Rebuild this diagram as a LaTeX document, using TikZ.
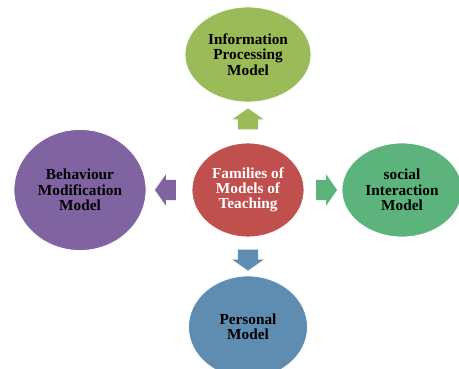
\documentclass[tikz,border=0pt]{standalone}
\usepackage{fontspec}
\setmainfont{Liberation Serif}
\usetikzlibrary{shapes.geometric,shapes.arrows,calc}

\definecolor{famred}{RGB}{192,80,77}
\definecolor{infogreen}{RGB}{155,187,89}
\definecolor{socgreen}{RGB}{92,179,124}
\definecolor{behpurple}{RGB}{128,100,162}
\definecolor{persblue}{RGB}{95,140,177}

\tikzset{
  model/.style={shape=ellipse,draw=white,line width=0.8pt,inner sep=0pt,
    align=center,font=\fontsize{15.3}{15.3}\selectfont\bfseries},
  blockarrow/.style={single arrow,draw=none,inner xsep=0pt,inner ysep=10pt,
    minimum height=21pt,
    single arrow head extend=5.5pt,single arrow tip angle=110}
}

\begin{document}
\begin{tikzpicture}[x=1pt,y=1pt]
    \useasboundingbox (0,0) rectangle (459,369);
    \clip (0,0) rectangle (459,369);
    \node[model,fill=famred,text=white,minimum width=112pt,minimum height=94pt] (C) at (248,179) {Families of\\Models of\\Teaching};
    \node[model,fill=infogreen,minimum width=126pt,minimum height=95pt] (T) at (248,314.5) {Information\\Processing\\Model};
    \node[model,fill=behpurple,minimum width=132pt,minimum height=121pt] (L) at (80,179) {Behaviour\\Modification\\Model};
    \node[model,fill=socgreen,minimum width=120pt,minimum height=94pt] (R) at (402,179) {social\\Interaction\\Model};
    \node[model,fill=persblue,minimum width=119pt,minimum height=102pt] (B) at (248,42) {Personal\\Model};

    \node[blockarrow,fill=infogreen,rotate=90] (toT) at ($(C.north)!0.5!(T.south)$) {};
    \node[blockarrow,fill=behpurple,rotate=180] (toL) at ($(C.west)!0.5!(L.east)$) {};
    \node[blockarrow,fill=socgreen] (toR) at ($(C.east)!0.5!(R.west)$) {};
    \node[blockarrow,fill=persblue,rotate=-90] (toB) at ($(C.south)!0.5!(B.north)$) {};

\end{tikzpicture}
\end{document}
